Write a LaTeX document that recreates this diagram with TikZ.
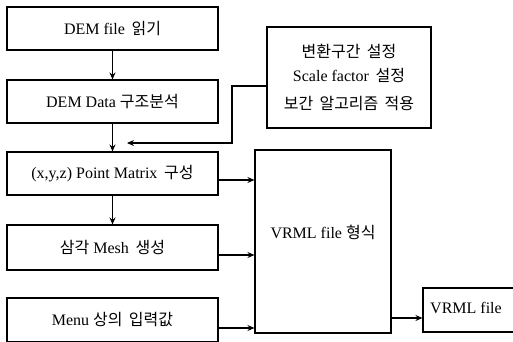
\documentclass[tikz,border=0pt]{standalone}
\usepackage{fontspec}
\setmainfont{Liberation Serif}
\newfontfamily\kr{Noto Sans CJK KR}
\usetikzlibrary{arrows.meta}
\begin{document}
\begin{tikzpicture}[x=1pt,y=-1pt,
  box/.style={draw,line width=1.1pt,inner sep=0pt},
  lbl/.style={font=\fontsize{16}{18}\selectfont,inner sep=0pt},
  conn/.style={line width=1.1pt,-{Stealth[length=7pt,width=6pt]}},
  plain/.style={line width=1.1pt}]
\useasboundingbox (0,0) rectangle (513,342);
\clip (0,0) rectangle (513,342);
% left column boxes
\node[box,minimum width=211pt,minimum height=43pt] (b1) at (112.5,28.5) {};
\node[lbl] at (b1) {DEM file\, {\kr 읽기}};
\node[box,minimum width=211pt,minimum height=43pt] (b2) at (112.5,101.5) {};
\node[lbl] at (b2) {DEM Data {\kr 구조분석}};
\node[box,minimum width=211pt,minimum height=43pt] (b3) at (112.5,173.5) {};
\node[lbl] at (b3) {(x,y,z) Point Matrix\, {\kr 구성}};
\node[box,minimum width=211pt,minimum height=45pt] (b4) at (112.5,247.5) {};
\node[lbl] at (b4) {{\kr 삼각} Mesh\, {\kr 생성}};
\node[box,minimum width=211pt,minimum height=44pt] (b5) at (112.5,320) {};
\node[lbl] at (b5) {Menu {\kr 상의\, 입력값}};
% parameter box
\node[box,minimum width=164pt,minimum height=101pt] (p) at (349,77.5) {};
\node[lbl] at (349,51) {\kr 변환구간\, 설정};
\node[lbl] at (349,76) {Scale factor\, {\kr 설정}};
\node[lbl] at (349,104) {\kr 보간\, 알고리즘\, 적용};
% VRML format box
\node[box,minimum width=136pt,minimum height=183pt] (v) at (323,241.5) {};
\node[lbl] at (323,232) {VRML file {\kr 형식}};
% output box
\node[box,minimum width=100pt,minimum height=44pt] (o) at (473,310) {};
\node[lbl] at (466,308) {VRML file};
% connectors
\draw[conn] (b1.south) -- (b2.north);
\draw[conn] (b2.south) -- (b3.north);
\draw[conn] (b3.south) -- (b4.north);
\coordinate (pe) at (127,143);
\draw[conn] (p.west |- 0,86) -- (232,86) -- (232,143) -- (pe);
\draw[conn] (b3.east |- 0,180) -- (v.west |- 0,180);
\draw[conn] (b4.east |- 0,255) -- (v.west |- 0,255);
\draw[conn] (b5.east |- 0,328) -- (v.west |- 0,328);
\draw[conn] (v.east |- 0,318) -- (o.west |- 0,318);
\end{tikzpicture}
\end{document}
